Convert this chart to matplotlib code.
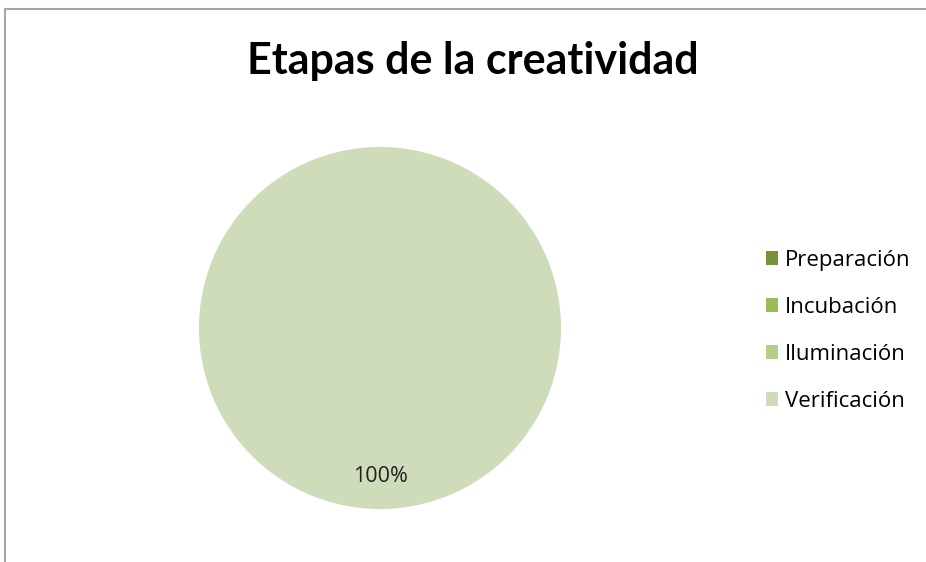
import matplotlib.pyplot as plt
from matplotlib.patches import Rectangle, Patch

categories = ['Preparación', 'Incubación', 'Iluminación', 'Verificación']
values = [0, 0, 0, 100]
colors = ['#77933C', '#9BBB59', '#B5CC8A', '#CFDCB9']

W, H = 926, 562
fig = plt.figure(figsize=(W / 100, H / 100), dpi=100)
fig.patch.set_facecolor('white')

# chart frame (runs off the right/bottom edge like the screenshot)
fig.patches.append(Rectangle((5 / W, -0.1), 1.2, 1.1 - 9 / H,
                             transform=fig.transFigure, fill=False,
                             edgecolor='#A6A6A6', linewidth=1.5))

fig.text(473 / W, 1 - 61 / H, 'Etapas de la creatividad', ha='center', va='center',
         fontsize=31, fontweight='bold', family='Lato', color='black')

# pie axes: center (380, 328), radius ~181 px
r = 181
ax = fig.add_axes([(380 - r) / W, 1 - (328 + r) / H, 2 * r / W, 2 * r / H])


def pct(p):
    return f'{p:.0f}%' if p > 0 else ''


wedges, texts, autotexts = ax.pie(values, colors=colors, startangle=90, counterclock=False,
                                  autopct=pct, pctdistance=0.82,
                                  textprops={'fontsize': 15.5, 'family': 'Open Sans', 'color': '#222222'})
ax.set_xlim(-1, 1)
ax.set_ylim(-1, 1)
ax.set_aspect('equal')

handles = [Patch(facecolor=c, edgecolor='none') for c in colors]
fig.legend(handles, categories, loc='upper left', bbox_to_anchor=(746 / W, 1 - 230 / H),
           frameon=False, prop={'family': 'Open Sans', 'size': 16},
           handlelength=0.55, handleheight=0.55, handletextpad=0.3, labelspacing=1.17)

fig.savefig('out.png', dpi=100)
